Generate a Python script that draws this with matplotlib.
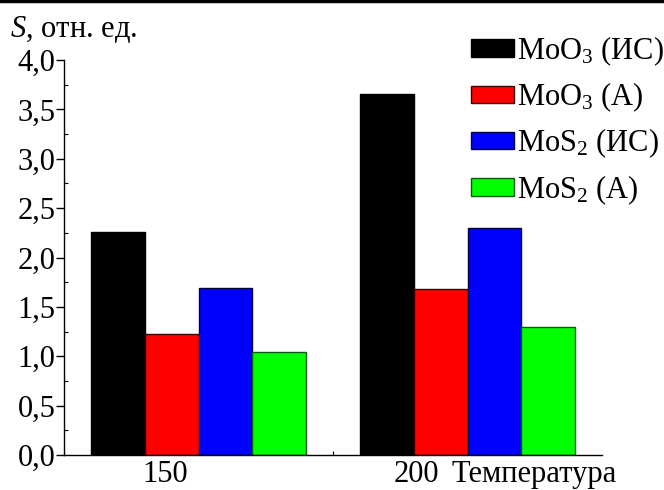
import matplotlib
matplotlib.use("Agg")
import matplotlib.pyplot as plt
import matplotlib.transforms as mtransforms
from matplotlib.lines import Line2D
import numpy as np

plt.rcParams['font.family'] = ['Liberation Serif', 'DejaVu Serif']
plt.rcParams['mathtext.fontset'] = 'custom'
plt.rcParams['mathtext.rm'] = 'Liberation Serif'
plt.rcParams['mathtext.it'] = 'Liberation Serif:italic'

# datos
temperaturas = ["150", "200"]
series = [r"MoO$_3$ (ИС)", r"MoO$_3$ (А)", r"MoS$_2$ (ИС)", r"MoS$_2$ (А)"]
valores = [
    [2.26, 3.66],
    [1.23, 1.68],
    [1.69, 2.30],
    [1.04, 1.30],
]
colores = ["#000000", "#ff0000", "#0000ff", "#00ff00"]
bordes = ["#000000", "#3a0000", "#00003a", "#0a5a0a"]
yticks = [0.0, 0.5, 1.0, 1.5, 2.0, 2.5, 3.0, 3.5, 4.0]

fs = 22

fig = plt.figure(figsize=(6.64, 4.9), dpi=100)
ax = fig.add_axes([64 / 664, 1 - 455 / 490, 538 / 664, 395 / 490])

x = np.arange(len(temperaturas))
ancho = 0.2
for i, (nombre, vals) in enumerate(zip(series, valores)):
    ax.bar(x + (i - 1.5) * ancho, vals, ancho, color=colores[i],
           edgecolor=bordes[i], linewidth=1.0, label=nombre, zorder=2)

ax.set_xlim(-0.5, 1.5)
ax.set_ylim(0, 4.0)
ax.spines['top'].set_visible(False)
ax.spines['right'].set_visible(False)
ax.spines['left'].set_linewidth(1.0)
ax.spines['bottom'].set_linewidth(1.0)

ax.set_yticks(yticks)
ax.set_yticklabels([f"{v:.1f}".replace(".", ",") for v in yticks], fontsize=fs)
ax.set_yticks(np.arange(0.25, 4.0, 0.5), minor=True)
ax.tick_params(axis='y', which='major', direction='out', length=6, width=1, pad=0)
ax.tick_params(axis='y', which='minor', direction='in', length=3, width=0.8)

ax.set_xticks([])
ax.set_xticks([0.5], minor=True)
ax.tick_params(axis='x', which='minor', direction='in', length=3, width=0.8)

# etiquetas del eje x
trans = mtransforms.blended_transform_factory(ax.transData, ax.transAxes)
desplaz = [-0.125, -0.19]
for xi, etiq, dx in zip(x, temperaturas, desplaz):
    ax.text(xi + dx, -0.013, etiq, transform=trans, ha='center', va='top', fontsize=fs)
ax.text(1 - 0.058, -0.013, "Температура", transform=trans, ha='left', va='top', fontsize=fs)

fig.text(10 / 664, 1 - 37 / 490, r"$S$, отн. ед.", ha='left', va='baseline', fontsize=fs)

ax.legend(loc='upper left', bbox_to_anchor=(471 / 664, 1 - 34 / 490),
          bbox_transform=fig.transFigure, frameon=False, fontsize=fs,
          handlelength=1.4, handleheight=0.5, handletextpad=0.1,
          labelspacing=0.42, borderpad=0, borderaxespad=0)

fig.add_artist(Line2D([0, 1], [0.997, 0.997], transform=fig.transFigure, color='k', linewidth=2.5))

fig.savefig("out.png", dpi=100)
